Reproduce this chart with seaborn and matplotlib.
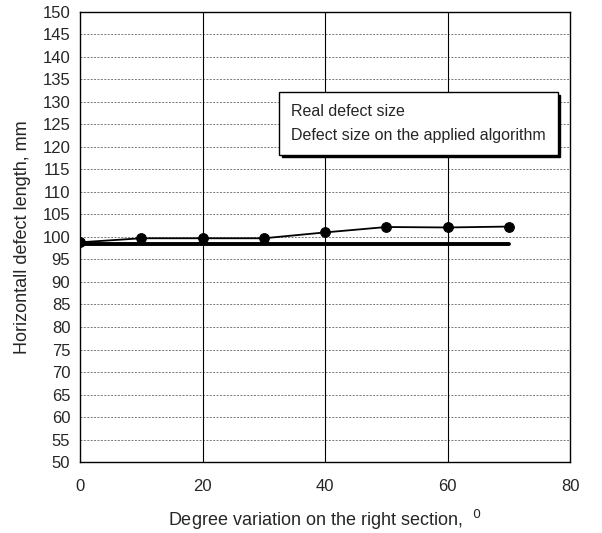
import pandas as pd
import seaborn as sns
import matplotlib.pyplot as plt
from matplotlib.lines import Line2D

# data
degrees = [0, 10, 20, 30, 40, 50, 60, 70]
algo_size = [98.8, 99.7, 99.7, 99.7, 101.0, 102.2, 102.1, 102.3]
real_x = [0, 70]
real_size = [98.5, 98.5]

sns.set_style("white")
plt.rcParams['font.family'] = ['Liberation Sans', 'DejaVu Sans']

fig = plt.figure(figsize=(6.02, 5.33), dpi=100)
ax = fig.add_axes([0.133, 0.133, 0.814, 0.845])

algo_df = pd.DataFrame({"deg": degrees, "size": algo_size})
real_df = pd.DataFrame({"deg": real_x, "size": real_size})

sns.lineplot(data=real_df, x="deg", y="size", color="black", linewidth=2.8, ax=ax)
sns.lineplot(data=algo_df, x="deg", y="size", color="black", linewidth=1.3,
             marker="o", markersize=7, markeredgecolor="black", ax=ax)

ax.set_xlim(0, 80)
ax.set_ylim(50, 150)
ax.set_xticks([0, 20, 40, 60, 80])
ax.set_yticks(range(50, 151, 5))

# dotted horizontal grid, solid vertical grid
for yv in range(55, 150, 5):
    ax.axhline(yv, color="#777777", linewidth=0.7, linestyle=(0, (2, 1.5)), zorder=0)
for xv in [20, 40, 60]:
    ax.axvline(xv, color="black", linewidth=0.8, zorder=0)

for s in ax.spines.values():
    s.set_color("black")
    s.set_linewidth(1.0)
ax.tick_params(axis="y", direction="out", length=5, width=1, labelsize=12, pad=2)
ax.tick_params(axis="x", direction="inout", length=8, width=1, labelsize=12, pad=8)

ax.set_xlabel("Degree variation on the right section,  $^{0}$", fontsize=13, labelpad=10)
ax.set_ylabel("Horizontall defect length, mm", fontsize=13, labelpad=8)

handles = [Line2D([], [], linestyle="none"), Line2D([], [], linestyle="none")]
leg = ax.legend(handles, ["Real defect size", "Defect size on the applied algorithm"],
                loc="upper left", bbox_to_anchor=(0.406, 0.822), borderaxespad=0,
                handlelength=0, handletextpad=0, fontsize=11.5, frameon=True,
                fancybox=False, shadow={"color": "black", "alpha": 1},
                borderpad=0.75, labelspacing=0.55)
leg.get_frame().set_edgecolor("black")
leg.get_frame().set_linewidth(1.0)

fig.savefig("out.png", dpi=100)
